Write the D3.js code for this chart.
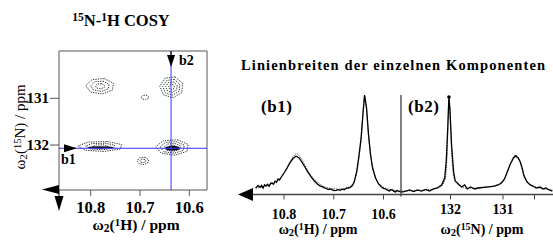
<!DOCTYPE html>
<html>
<head>
<meta charset="utf-8">
<script src="https://cdn.jsdelivr.net/npm/d3@7"></script>
<style>
  body { margin: 0; background: #fff; }
  svg { display: block; font-family: "Liberation Serif", "Times New Roman", serif; font-weight: bold; }
</style>
</head>
<body>
<svg id="chart" width="553" height="240"></svg>
<script>
// --- data ---

// 2D COSY: axis ticks
const cosyTicksH = [10.8, 10.7, 10.6];
const cosyTicksN = [131, 132];

// cross peaks (centre + half widths in ppm, number of contour rings, core size)
const peakH = [10.781, 10.636, 10.780, 10.634, 10.694, 10.690];
const peakN = [130.74, 130.76, 132.03, 132.05, 132.34, 130.98];
const peakWH = [0.029, 0.024, 0.046, 0.034, 0.012, 0.008];
const peakWN = [0.17, 0.23, 0.11, 0.17, 0.08, 0.05];
const peakRings = [3, 4, 3, 4, 2, 1];
const peakCore = [0, 0, 0.35, 0.45, 0, 0];

// cut positions of the 1D traces
const cutH = 10.637;
const cutN = 132.07;

// trace b1 (1H direction)
const b1Ppm = [10.857, 10.852, 10.848, 10.845, 10.842, 10.839, 10.836, 10.833, 10.830, 10.827, 10.824, 10.821,
  10.818, 10.815, 10.812, 10.809, 10.806, 10.800, 10.794, 10.788, 10.782, 10.776, 10.770, 10.764, 10.758,
  10.752, 10.745, 10.739, 10.733, 10.727, 10.722, 10.719, 10.715, 10.711, 10.707, 10.703, 10.699, 10.695,
  10.691, 10.687, 10.683, 10.679, 10.675, 10.671, 10.667, 10.663, 10.659, 10.654, 10.650, 10.645, 10.641,
  10.638, 10.634, 10.630, 10.626, 10.622, 10.616, 10.610, 10.604, 10.600, 10.596, 10.592, 10.588, 10.585,
  10.582, 10.579, 10.576, 10.573, 10.570, 10.565];
const b1Int = [5.1, 7.5, 6.0, 7.8, 5.0, 8.4, 7.2, 8.9, 6.8, 9.8, 10.2, 9.0,
  12.0, 11.0, 14.3, 13.2, 15.8, 20.4, 25.5, 31.0, 35.2, 37.5, 36.0, 31.6, 26.5,
  21.4, 16.3, 12.2, 9.2, 7.1, 6.2, 5.1, 4.6, 3.6, 4.2, 3.1, 2.4, 2.6,
  3.4, 2.8, 4.0, 3.4, 4.8, 5.1, 5.8, 7.4, 11.0, 21.4, 35.7, 56.0, 82.7,
  100, 86.7, 59.0, 38.8, 25.5, 15.3, 9.2, 6.1, 4.8, 4.1, 3.0, 2.0, 3.4,
  3.1, 1.6, 1.0, 2.6, 2.0, 1.0];

// least-squares fit to b1 (dotted)
const b1FitPpm = [10.857, 10.830, 10.810, 10.795, 10.785, 10.775, 10.765, 10.750, 10.730, 10.710, 10.690, 10.670,
  10.660, 10.650, 10.645, 10.641, 10.638, 10.635, 10.630, 10.625, 10.620, 10.610, 10.590, 10.565];
const b1FitInt = [5, 8, 14, 24, 34, 40, 35, 21, 10, 5, 4, 6, 11, 33, 55, 84, 99, 88, 58, 36, 23, 10, 4, 2];

// trace b2 (15N direction)
const b2Ppm = [132.93, 132.85, 132.78, 132.70, 132.63, 132.55, 132.47, 132.40, 132.32, 132.25, 132.17, 132.11,
  132.08, 132.05, 132.03, 132.01, 131.98, 131.94, 131.91, 131.85, 131.79, 131.73, 131.68, 131.62,
  131.54, 131.47, 131.39, 131.32, 131.24, 131.17, 131.09, 131.03, 130.97, 130.92, 130.86, 130.80,
  130.76, 130.71, 130.67, 130.63, 130.60, 130.54, 130.48, 130.43, 130.37, 130.29, 130.24, 130.18,
  130.12, 130.06];
const b2Int = [1.0, 2.0, 3.1, 1.5, 3.1, 2.0, 3.6, 2.0, 4.1, 5.1, 8.2, 15.3,
  33.7, 69.4, 98.0, 84.7, 49.0, 21.4, 12.2, 9.2, 6.1, 8.2, 4.1, 6.1,
  4.1, 5.1, 5.6, 6.1, 6.6, 7.1, 8.2, 10.2, 14.3, 21.4, 29.6, 35.7,
  37.8, 35.7, 31.6, 24.5, 17.3, 11.2, 8.2, 7.1, 5.1, 6.1, 4.1, 5.1,
  3.1, 2.0];

// fit to b2 (dotted)
const b2FitPpm = [132.93, 132.50, 132.20, 132.10, 132.06, 132.03, 132.00, 131.96, 131.90, 131.70, 131.30, 131.05,
  130.95, 130.85, 130.76, 130.68, 130.60, 130.50, 130.30, 130.06];
const b2FitInt = [2, 3, 6, 14, 45, 97, 70, 25, 11, 5, 6, 10, 17, 31, 39, 32, 18, 9, 5, 3];

const specTicksH = [10.8, 10.7, 10.6];
const specTicksN = [132, 131, 130.4];
const specLabelsN = ["132", "131", ""];

// --- drawing ---
const svg = d3.select("#chart");

const hx = d3.scaleLinear().domain([10.8, 10.6]).range([90.7, 189.3]);
const ny = d3.scaleLinear().domain([131, 132]).range([98.3, 145]);
const box = { left: 59, right: 207, top: 51, bottom: 190 };

function sup(t, s) { t.append("tspan").attr("baseline-shift", "40%").attr("font-size", "0.7em").text(s); }
function sub(t, s) { t.append("tspan").attr("baseline-shift", "-20%").attr("font-size", "0.75em").text(s); }
function txt(t, s) { t.append("tspan").text(s); }

// left title
const t1 = svg.append("text").attr("x", 121).attr("y", 26).attr("text-anchor", "middle").attr("font-size", 16.5);
sup(t1, "15"); txt(t1, "N-"); sup(t1, "1"); txt(t1, "H COSY");

// box frame
svg.append("path")
  .attr("d", `M${box.left},${box.bottom}V${box.top}H${box.right}V${box.bottom}H${box.left}`)
  .attr("fill", "none").attr("stroke", "#555").attr("stroke-width", 1);

// contours: drawn as dotted heptagon rings around each cross peak
const ring = d3.lineRadial().curve(d3.curveLinearClosed);
const angles = d3.range(7).map(k => k * 2 * Math.PI / 7 + 0.3);
const contours = svg.append("g");
peakH.forEach((h, i) => {
  const cx = hx(h), cy = ny(peakN[i]);
  const rx = Math.abs(hx(h + peakWH[i]) - cx);
  const ry = Math.abs(ny(peakN[i] + peakWN[i]) - cy);
  const n = peakRings[i];
  for (let k = 0; k < n; k++) {
    const f = (k + 1) / n;
    const pts = angles.map(a => [cx + rx * f * Math.sin(a), cy - ry * f * Math.cos(a)]);
    contours.append("path")
      .attr("d", d3.line().curve(d3.curveLinearClosed)(pts))
      .attr("fill", "none").attr("stroke", "#222")
      .attr("stroke-width", 0.9).attr("stroke-dasharray", "1.3,1.1");
  }
  if (peakCore[i] > 0) {
    contours.append("ellipse")
      .attr("cx", cx).attr("cy", cy + 1)
      .attr("rx", rx * peakCore[i] * (i === 2 ? 1.6 : 1)).attr("ry", ry * peakCore[i] * 0.7)
      .attr("fill", "#111");
  }
});

// blue cut lines
svg.append("line").attr("x1", hx(cutH)).attr("x2", hx(cutH)).attr("y1", box.top).attr("y2", box.bottom)
  .attr("stroke", "#3333ff").attr("stroke-width", 1);
svg.append("line").attr("x1", box.left).attr("x2", box.right).attr("y1", ny(cutN)).attr("y2", ny(cutN))
  .attr("stroke", "#3333ff").attr("stroke-width", 1);

// b2 / b1 arrows
const ax = hx(cutH), ay = ny(cutN);
svg.append("line").attr("x1", ax).attr("x2", ax).attr("y1", box.top).attr("y2", 57).attr("stroke", "#000");
svg.append("path").attr("d", `M${ax - 4},55L${ax + 4},55L${ax},67Z`).attr("fill", "#000");
svg.append("text").attr("x", 179).attr("y", 65).attr("font-size", 14).text("b2");
svg.append("path").attr("d", `M64,${ay - 4}L64,${ay + 4}L77,${ay}Z`).attr("fill", "#000");
svg.append("text").attr("x", 61).attr("y", 164).attr("font-size", 14).text("b1");

// axes
svg.selectAll(".xt").data(cosyTicksH).join("line")
  .attr("x1", d => hx(d)).attr("x2", d => hx(d)).attr("y1", box.bottom).attr("y2", box.bottom + 6)
  .attr("stroke", "#555");
svg.selectAll(".xl").data(cosyTicksH).join("text")
  .attr("x", d => hx(d)).attr("y", 213).attr("text-anchor", "middle").attr("font-size", 16.5)
  .text(d => d3.format(".1f")(d));
svg.selectAll(".yt").data(cosyTicksN).join("line")
  .attr("x1", box.left - 9).attr("x2", box.left).attr("y1", d => ny(d)).attr("y2", d => ny(d))
  .attr("stroke", "#555");
svg.selectAll(".yl").data(cosyTicksN).join("text")
  .attr("x", 49).attr("y", d => ny(d) + 5).attr("text-anchor", "end").attr("font-size", 15)
  .text(d => d);

// corner arrows
svg.append("path").attr("d", `M42,189.5L59,185L59,194Z`).attr("fill", "#000");
svg.append("line").attr("x1", 59).attr("x2", 59).attr("y1", 190).attr("y2", 197).attr("stroke", "#000");
svg.append("path").attr("d", `M54.5,196L63.5,196L59,211Z`).attr("fill", "#000");

// axis titles left
const xt = svg.append("text").attr("x", 136).attr("y", 230).attr("text-anchor", "middle").attr("font-size", 15.5);
txt(xt, "ω"); sub(xt, "2"); txt(xt, "("); sup(xt, "1"); txt(xt, "H) / ppm");
const yt = svg.append("text").attr("transform", "translate(25,127) rotate(-90)")
  .attr("text-anchor", "middle").attr("font-size", 15).attr("font-weight", "normal");
txt(yt, "ω"); sub(yt, "2"); txt(yt, "("); sup(yt, "15"); txt(yt, "N) / ppm");

// --- right panel ---
svg.append("text").attr("x", 241).attr("y", 70).attr("font-size", 14.5)
  .attr("textLength", 304).attr("lengthAdjust", "spacing")
  .text("Linienbreiten der einzelnen Komponenten");

const x1 = d3.scaleLinear().domain([10.8, 10.6]).range([284, 383.5]);
const x2 = d3.scaleLinear().domain([132, 131]).range([450.5, 503]);
const iy = d3.scaleLinear().domain([0, 100]).range([193, 95]);
const base = 194.5;

const line1 = d3.line().x((d, i) => x1(b1Ppm[i])).y(d => iy(d));
const fit1 = d3.line().x((d, i) => x1(b1FitPpm[i])).y(d => iy(d)).curve(d3.curveMonotoneX);
const line2 = d3.line().x((d, i) => x2(b2Ppm[i])).y(d => iy(d));
const fit2 = d3.line().x((d, i) => x2(b2FitPpm[i])).y(d => iy(d)).curve(d3.curveMonotoneX);

svg.append("path").attr("d", fit1(b1FitInt)).attr("fill", "none").attr("stroke", "#333")
  .attr("stroke-width", 0.9).attr("stroke-dasharray", "1.2,1.2");
svg.append("path").attr("d", fit2(b2FitInt)).attr("fill", "none").attr("stroke", "#333")
  .attr("stroke-width", 0.9).attr("stroke-dasharray", "1.2,1.2");
svg.append("path").attr("d", line1(b1Int)).attr("fill", "none").attr("stroke", "#000").attr("stroke-width", 1.3);
svg.append("path").attr("d", line2(b2Int)).attr("fill", "none").attr("stroke", "#000").attr("stroke-width", 1.3);
svg.append("circle").attr("cx", x2(132.03)).attr("cy", iy(98)).attr("r", 1.8).attr("fill", "#000");

// divider
svg.append("line").attr("x1", 401).attr("x2", 401).attr("y1", 95).attr("y2", base + 2)
  .attr("stroke", "#000").attr("stroke-width", 1);

// baseline axis + arrow
svg.append("line").attr("x1", 252).attr("x2", 553).attr("y1", base).attr("y2", base)
  .attr("stroke", "#444").attr("stroke-width", 1.5);
svg.append("path").attr("d", `M238,${base}L253,${base - 6.5}L253,${base + 6.5}Z`).attr("fill", "#000");

svg.selectAll(".st1").data(specTicksH).join("line")
  .attr("x1", d => x1(d)).attr("x2", d => x1(d)).attr("y1", base).attr("y2", base + 5).attr("stroke", "#444");
svg.selectAll(".sl1").data(specTicksH).join("text")
  .attr("x", d => x1(d)).attr("y", 219).attr("text-anchor", "middle").attr("font-size", 14)
  .text(d => d3.format(".1f")(d));
svg.selectAll(".st2").data(specTicksN).join("line")
  .attr("x1", d => x2(d)).attr("x2", d => x2(d)).attr("y1", base).attr("y2", base + 5).attr("stroke", "#444");
svg.selectAll(".sl2").data(specTicksN).join("text")
  .attr("x", d => x2(d)).attr("y", 214).attr("text-anchor", "middle").attr("font-size", 14)
  .text((d, i) => specLabelsN[i]);

svg.append("text").attr("x", 261).attr("y", 112).attr("font-size", 17).attr("textLength", 31).text("(b1)");
svg.append("text").attr("x", 408).attr("y", 112).attr("font-size", 17).attr("textLength", 31).text("(b2)");

const rt1 = svg.append("text").attr("x", 318).attr("y", 234).attr("text-anchor", "middle").attr("font-size", 14);
txt(rt1, "ω"); sub(rt1, "2"); txt(rt1, "("); sup(rt1, "1"); txt(rt1, "H) / ppm");
const rt2 = svg.append("text").attr("x", 482).attr("y", 234).attr("text-anchor", "middle").attr("font-size", 14);
txt(rt2, "ω"); sub(rt2, "2"); txt(rt2, "("); sup(rt2, "15"); txt(rt2, "N) / ppm");
</script>
</body>
</html>
